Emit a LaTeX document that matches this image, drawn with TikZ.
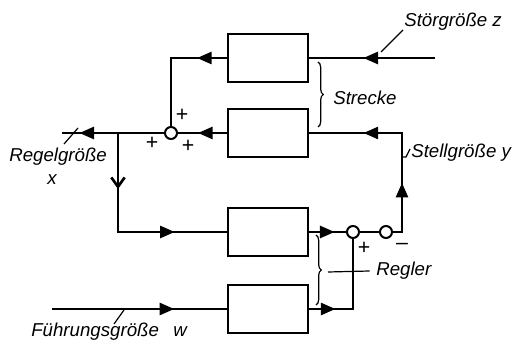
\documentclass[tikz,border=0pt]{standalone}
\usepackage{fontspec}
\setsansfont{Liberation Sans}
\usetikzlibrary{arrows.meta,decorations.markings,decorations.pathreplacing}

\begin{document}
\begin{tikzpicture}[
  x=0.75pt, y=-0.75pt,
  line width=2pt,
  blk/.style={draw, minimum width=60pt, minimum height=36pt, inner sep=0pt},
  sum/.style={draw, circle, fill=white, minimum size=9pt, inner sep=0pt, line width=1.5pt},
  lbl/.style={font=\sffamily\itshape\fontsize{14}{16}\selectfont, inner sep=0pt},
  sgn/.style={font=\sffamily\fontsize{16}{18}\selectfont, inner sep=0pt},
  arr/.style={postaction={decorate, decoration={markings,
      mark=at position #1 with {\arrow{Triangle[length=11pt,width=9pt]}}}}},
  oarr/.style={postaction={decorate, decoration={markings,
      mark=at position #1 with {\arrow{Straight Barb[length=7pt,width=10pt]}}}}},
  hair/.style={line width=0.9pt},
  brc/.style={decorate, decoration={brace, amplitude=4pt}, line width=0.9pt}
]
\useasboundingbox (0,0) rectangle (519,345);

% --- Strecke ---
\node[blk] (sz) at (268,58) {};
\node[blk] (sy) at (268,133) {};
\node[sum] (sumx) at (171,133) {};

% --- Regler ---
\node[blk] (rx) at (268,232) {};
\node[blk] (rw) at (268,309) {};
\node[sum] (sumw) at (353,232) {};
\node[sum] (sumy) at (386,232) {};

\coordinate (zin) at (435,58);
\coordinate (xout) at (62,133);
\coordinate (xbr) at (118,133);
\coordinate (win) at (52,309);
\coordinate (yknee) at (402,232);

% signal lines
\draw[arr=0.57] (zin) -- (sz.east);
\draw[arr=0.24] (sz.west) -| (sumx.north);
\draw[arr=0.59] (sy.west) -- (sumx.east);
\draw[arr=0.83] (sumx.west) -- (xout);
\draw[oarr=0.27, arr=0.75] (xbr) |- (rx.west);
\draw[arr=0.70] (win) -- (rw.west);
\draw[arr=0.69] (rx.east) -- (sumw.west);
\draw[arr=0.23] (rw.east) -| (sumw.south);
\draw (sumw.east) -- (sumy.west);
\draw[arr=0.29, arr=0.73] (sumy.east) -- (yknee) |- (sy.east);

% signs
\node[sgn] (p1) at (182,115) {+};
\node[sgn] (p2) at (152,143) {+};
\node[sgn] (p3) at (188,146) {+};
\node[sgn] (p4) at (364,248) {+};
\node[sgn] (m1) at (402,246) {--};

% --- Labels ---
\node[lbl, anchor=west] (lstoer) at (403,22) {Störgröße z};
\draw[hair] (381,52) -- (403,30);

\draw[brc] (318,62) -- (318,127);
\node[lbl, anchor=west] (lstrecke) at (332,98) {Strecke};

\node[lbl, anchor=west] (lstell) at (410,153) {Stellgröße y};
\draw[hair] (402,157) -- (406,157) -- (410,149);

\node[lbl, anchor=west] (lregel) at (8,157) {Regelgröße};
\node[lbl] (lx) at (52,180) {x};
\draw[hair] (64,144) -- (78,128);

\draw[brc] (316,235) -- (316,305);
\node[lbl, anchor=west] (lregler) at (375,271) {Regler};
\draw[hair] (328,272) -- ([xshift=-4pt]lregler.west);

\node[lbl, anchor=west] (lfuehr) at (30,332) {Führungsgröße};
\node[lbl] (lw) at (180,332) {w};
\draw[hair] (114,324) -- (124,310);

\end{tikzpicture}
\end{document}
